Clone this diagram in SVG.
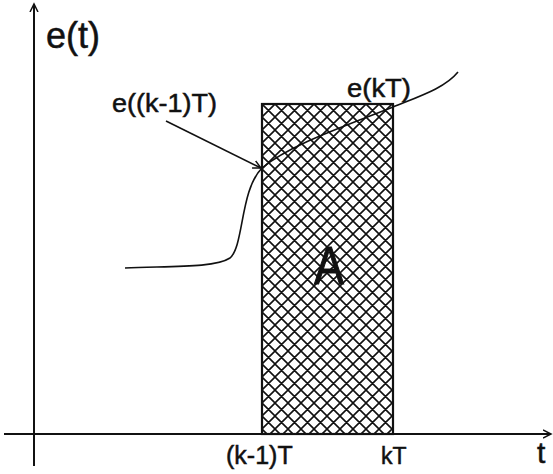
<svg xmlns="http://www.w3.org/2000/svg" width="553" height="474" viewBox="0 0 553 474">
<defs>
<pattern id="hatch" patternUnits="userSpaceOnUse" width="13" height="13" x="262" y="104">
<path d="M0,0 L13,13 M13,0 L0,13 M-1,12 L1,14 M12,-1 L14,1 M-1,1 L1,-1 M12,14 L14,12" stroke="#111" stroke-width="1.6" fill="none"/>
</pattern>
<marker id="arr" markerWidth="10" markerHeight="10" refX="8" refY="5" orient="auto" markerUnits="userSpaceOnUse">
<path d="M0,1 L8,5 L0,9" fill="none" stroke="#111" stroke-width="1.5"/>
</marker>
</defs>
<style>
text{font-family:"Liberation Sans",Arial,sans-serif;fill:#111;stroke:#111;stroke-width:0.5}
.ax{stroke:#111;stroke-width:2;fill:none}
</style>
<rect width="553" height="474" fill="#fff"/>
<g id="area">
<rect x="262" y="104" width="131" height="330" fill="url(#hatch)" stroke="#111" stroke-width="2.2"/>
<text x="0" y="0" font-size="54" text-anchor="middle" transform="translate(329,284) scale(0.82,1)" style="stroke-width:1.2">A</text>
</g>
<g id="axes">
<path class="ax" d="M34,466 L34,4" marker-end="url(#arr)"/>
<path class="ax" d="M4,434 L551,434" marker-end="url(#arr)"/>
</g>
<g id="curve">
<path d="M125,268 C170,266 215,268 230,258 C244,246 240,190 262,168 C290,145 340,128 393,107 C420,96 445,88 458,72" fill="none" stroke="#111" stroke-width="1.6"/>
</g>
<g id="connectors">
<path d="M166,121 L261,168" stroke="#111" stroke-width="1.6" fill="none" marker-end="url(#arr)"/>
</g>
<g id="labels">
<text x="46" y="48" font-size="36">e(t)</text>
<text x="112" y="112" font-size="26" textLength="105" lengthAdjust="spacingAndGlyphs">e((k-1)T)</text>
<text x="347" y="97" font-size="25" textLength="64" lengthAdjust="spacingAndGlyphs">e(kT)</text>
<text x="226" y="464" font-size="25">(k-1)T</text>
<text x="381" y="464" font-size="23">kT</text>
<text x="537" y="463" font-size="30">t</text>
</g>
</svg>
